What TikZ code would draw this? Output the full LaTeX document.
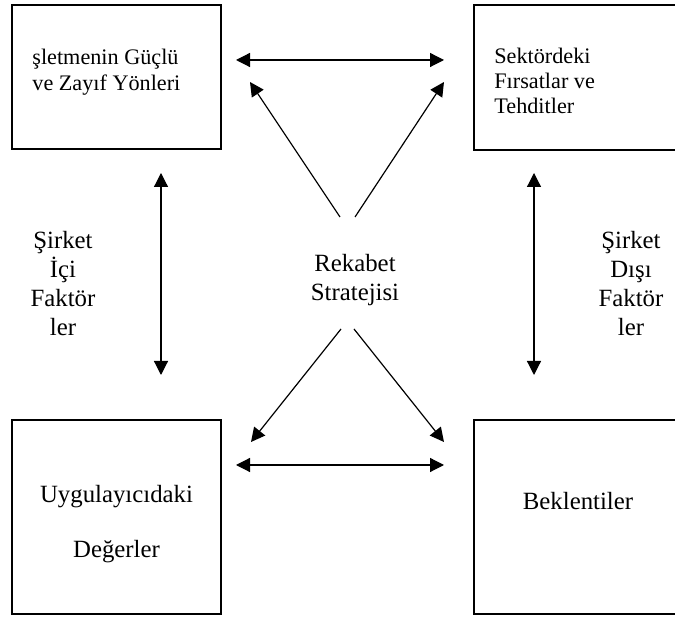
\documentclass[tikz,border=0pt]{standalone}
\usepackage{fontspec}
\setmainfont{Liberation Serif}
\usetikzlibrary{arrows.meta}

\begin{document}
\begin{tikzpicture}[x=0.5pt, y=-0.5pt,
  box/.style={draw, line width=0.8pt, inner sep=0pt, outer sep=0pt, minimum width=104.5pt},
  txt/.style={inner sep=0pt, font=\fontsize{12.4}{14.5}\selectfont},
  small/.style={inner sep=0pt, font=\fontsize{11.1}{13}\selectfont},
  link/.style={line width=0.6pt, -{Triangle[length=7pt,width=7pt]}},
  both/.style={line width=0.6pt, {Triangle[length=7pt,width=7pt]}-{Triangle[length=7pt,width=7pt]}}]
  \useasboundingbox (0,0) rectangle (675,619);
  \clip (0,0) rectangle (675,619);

  \node[box, minimum height=72pt] (tl) at (116.5,77) {};
  \node[box, minimum height=72.5pt] (tr) at (578.5,77.5) {};
  \node[box, minimum height=97pt] (bl) at (116.5,517) {};
  \node[box, minimum height=97pt] (br) at (578.5,517) {};

  \node[small, anchor=north west, align=left] (tlt) at (32,48.8) {şletmenin Güçlü\\ve Zayıf Yönleri};
  \node[small, anchor=north west, align=left, font=\fontsize{11.1}{12.5}\selectfont] (trt) at (494,47.8) {Sektördeki\\Fırsatlar ve\\Tehditler};
  \node[txt, anchor=north, align=center, font=\fontsize{12.4}{27.5}\selectfont] (blt) at (116.5,485) {Uygulayıcıdaki\\Değerler};
  \node[txt, anchor=base] (brt) at (578,510) {Beklentiler};
  \node[txt, anchor=north, align=center] (rs) at (355,254) {Rekabet\\Stratejisi};
  \node[txt, anchor=north, align=center] (ic) at (63,231) {Şirket\\İçi\\Faktör\\ler};
  \node[txt, anchor=north, align=center] (dc) at (631,231) {Şirket\\Dışı\\Faktör\\ler};

  \coordinate (h1a) at (236,60);
  \coordinate (h1b) at (444,60);
  \coordinate (h2a) at (236,465);
  \coordinate (h2b) at (444,465);
  \coordinate (v1a) at (161,173);
  \coordinate (v1b) at (161,375);
  \coordinate (v2a) at (534,173);
  \coordinate (v2b) at (534,375);
  \coordinate (d1a) at (340,217);
  \coordinate (d1b) at (250,82);
  \coordinate (d2a) at (355,217);
  \coordinate (d2b) at (444,82);
  \coordinate (d3a) at (341,329);
  \coordinate (d3b) at (251,442);
  \coordinate (d4a) at (354,329);
  \coordinate (d4b) at (444,442);

  \draw[both] (h1a) -- (h1b);
  \draw[both] (h2a) -- (h2b);
  \draw[both] (v1a) -- (v1b);
  \draw[both] (v2a) -- (v2b);
  \draw[link] (d1a) -- (d1b);
  \draw[link] (d2a) -- (d2b);
  \draw[link] (d3a) -- (d3b);
  \draw[link] (d4a) -- (d4b);
\end{tikzpicture}
\end{document}
